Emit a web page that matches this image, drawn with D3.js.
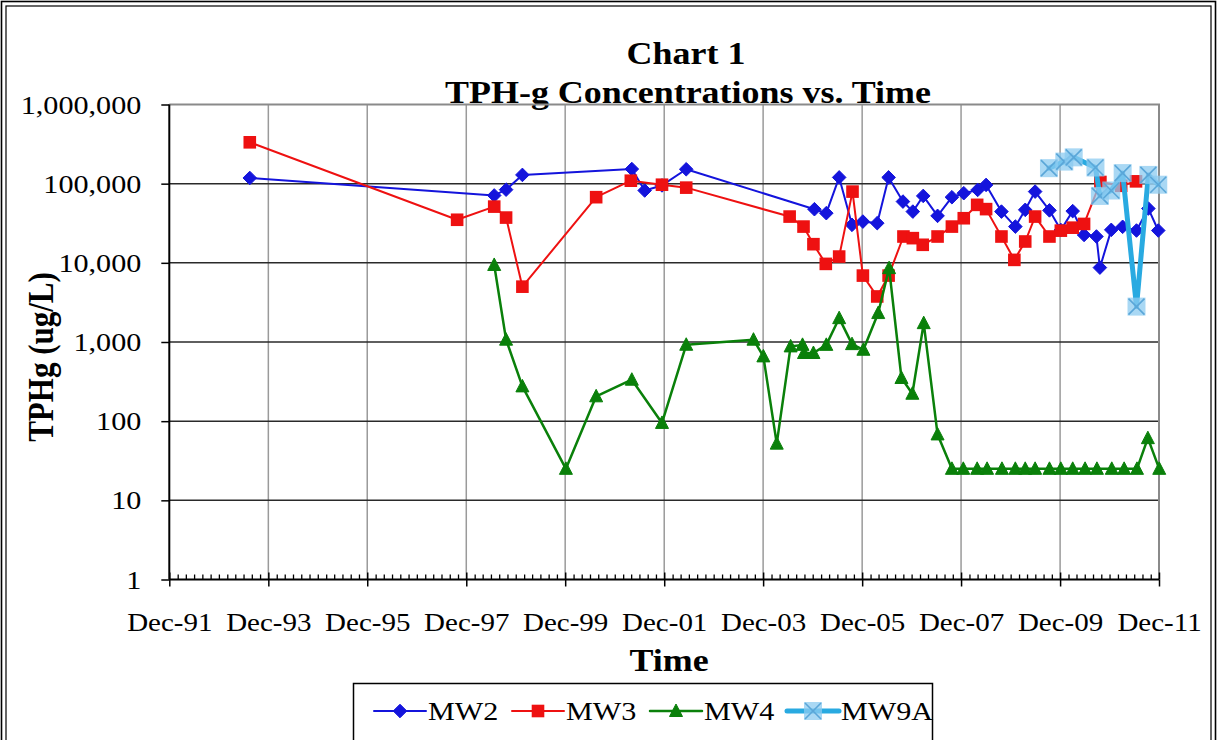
<!DOCTYPE html>
<html><head><meta charset="utf-8">
<script src="https://cdn.jsdelivr.net/npm/d3@7"></script>
<style>html,body{margin:0;padding:0;background:#fff;} svg{display:block;}</style>
</head><body>
<svg id="chart" width="1217" height="740"></svg>
<script>
// ---------------- data (dates as decimal years, values in ug/L) ----------------
const seriesNames = ["MW2", "MW3", "MW4", "MW9A"];

const mw2Dates = [1993.54, 1998.48, 1998.72, 1999.05, 2001.26, 2001.52, 2001.87, 2002.36, 2004.95, 2005.19,
  2005.45, 2005.71, 2005.93, 2006.22, 2006.45, 2006.74, 2006.94, 2007.15, 2007.44, 2007.73,
  2007.97, 2008.25, 2008.42, 2008.73, 2009.01, 2009.21, 2009.41, 2009.70, 2009.93, 2010.17,
  2010.40, 2010.65, 2010.72, 2010.95, 2011.18, 2011.46, 2011.70, 2011.90];
const mw2Values = [118000, 71000, 84000, 129000, 153000, 82000, 95000, 152000, 47600, 42400,
  120000, 30200, 33200, 31700, 120000, 59400, 44400, 70000, 39200, 67400,
  75800, 83400, 96400, 44400, 28700, 46700, 79400, 46000, 26000, 45000,
  22500, 21500, 8700, 26100, 28500, 25600, 48500, 25600];

const mw3Dates = [1993.54, 1997.73, 1998.48, 1998.72, 1999.05, 2000.54, 2001.24, 2001.87, 2002.36, 2004.45,
  2004.73, 2004.93, 2005.18, 2005.45, 2005.72, 2005.93, 2006.22, 2006.45, 2006.75, 2006.94,
  2007.14, 2007.44, 2007.73, 2007.97, 2008.24, 2008.42, 2008.73, 2008.99, 2009.21, 2009.41,
  2009.70, 2009.93, 2010.17, 2010.40, 2010.73, 2011.15, 2011.45];
const mw3Values = [333000, 35000, 51300, 37300, 5000, 67500, 109000, 97000, 89100, 38400,
  28700, 17200, 9700, 12000, 79400, 6900, 3760, 6900, 21500, 20500,
  16900, 21500, 28700, 36600, 54000, 47700, 21500, 10900, 18600, 38400,
  21500, 25500, 27800, 31000, 105000, 94000, 107000];

const mw4Dates = [1998.48, 1998.72, 1999.05, 1999.93, 2000.54, 2001.26, 2001.87, 2002.36, 2003.72, 2003.92,
  2004.19, 2004.47, 2004.71, 2004.74, 2004.93, 2005.19, 2005.45, 2005.71, 2005.94, 2006.24,
  2006.46, 2006.71, 2006.93, 2007.16, 2007.44, 2007.73, 2007.96, 2008.24, 2008.44, 2008.74,
  2009.01, 2009.21, 2009.41, 2009.70, 2009.93, 2010.17, 2010.42, 2010.66, 2010.96, 2011.21,
  2011.47, 2011.69, 2011.92];
const mw4Values = [9400, 1070, 275, 25, 206, 334, 95, 923, 1070, 658,
  52, 880, 920, 726, 726, 920, 2000, 940, 798, 2320,
  8570, 351, 222, 1730, 68, 25, 25, 25, 25, 25,
  25, 25, 25, 25, 25, 25, 25, 25, 25, 25,
  25, 61, 25];

const mw9aDates = [2009.69, 2010.00, 2010.19, 2010.63, 2010.72, 2010.95, 2011.18, 2011.46, 2011.70, 2011.90];
const mw9aValues = [157000, 190000, 215000, 160000, 70000, 82000, 136000, 2800, 129000, 97000];

const yTickValues = [1, 10, 100, 1000, 10000, 100000, 1000000];
const yTickLabels = ["1", "10", "100", "1,000", "10,000", "100,000", "1,000,000"];
const xTickLabels = ["Dec-91", "Dec-93", "Dec-95", "Dec-97", "Dec-99", "Dec-01", "Dec-03", "Dec-05", "Dec-07", "Dec-09", "Dec-11"];
const titleLines = ["Chart 1", "TPH-g Concentrations vs. Time"];
const xAxisTitle = "Time";
const yAxisTitle = "TPHg (ug/L)";

// ---------------- setup ----------------
const FONT = "'Liberation Serif','Times New Roman',serif";
const SX = 1.16; // horizontal stretch of the original picture
const W = 1217, H = 740;
const plot = {left: 169.3, right: 1159, top: 104.5, bottom: 579.5};

function toDate(dec) {
  const yr = Math.floor(dec);
  const a = new Date(yr, 0, 1), b = new Date(yr + 1, 0, 1);
  return new Date(a.getTime() + (dec - yr) * (b - a));
}

const svg = d3.select("#chart");
svg.append("rect").attr("width", W).attr("height", H).attr("fill", "#fff");

// double outer frame
svg.append("rect").attr("x", 1.5).attr("y", 1.5).attr("width", W - 3).attr("height", H + 10)
  .attr("fill", "none").attr("stroke", "#000").attr("stroke-width", 1.6);
svg.append("rect").attr("x", 6).attr("y", 6).attr("width", W - 12).attr("height", H + 10)
  .attr("fill", "none").attr("stroke", "#000").attr("stroke-width", 1.2);

const x = d3.scaleTime()
  .domain([new Date(1991, 11, 1), new Date(2011, 11, 1)])
  .range([plot.left, plot.right]);
const y = d3.scaleLog().domain([1, 1e6]).range([plot.bottom, plot.top]);

function stext(g, s, tx, ty, size, anchor, weight) {
  return g.append("text")
    .attr("transform", `translate(${tx},${ty}) scale(${SX},1)`)
    .attr("text-anchor", anchor || "start")
    .attr("font-family", FONT)
    .attr("font-size", size)
    .attr("font-weight", weight || "normal")
    .attr("fill", "#000")
    .text(s);
}

// titles (drawn first; plot border overlaps as in original)
stext(svg, titleLines[0], 686, 64, 31, "middle", "bold");
stext(svg, titleLines[1], 688, 103, 31, "middle", "bold");

// gridlines
const majorDates = d3.timeMonth.range(new Date(1991, 11, 1), new Date(2011, 11, 2), 24);
const minorDates = d3.timeMonth.range(new Date(1991, 11, 1), new Date(2011, 11, 2), 2)
  .filter(d => !(d.getMonth() === 11 && d.getFullYear() % 2 === 1));

const grid = svg.append("g");
grid.selectAll("line.v").data(majorDates.slice(1, -1)).join("line")
  .attr("x1", d => x(d)).attr("x2", d => x(d))
  .attr("y1", plot.top).attr("y2", plot.bottom)
  .attr("stroke", "#9a9a9a").attr("stroke-width", 1.5);
grid.selectAll("line.h").data(yTickValues.slice(1, -1)).join("line")
  .attr("x1", plot.left).attr("x2", plot.right)
  .attr("y1", d => y(d)).attr("y2", d => y(d))
  .attr("stroke", "#2a2a2a").attr("stroke-width", 1.5);
// plot border (top & right)
grid.append("path")
  .attr("d", `M${plot.left},${y(1e6)}H${x(new Date(2011, 11, 1))}V${plot.bottom}`)
  .attr("fill", "none").attr("stroke", "#8a8a8a").attr("stroke-width", 2);

// y axis
const yAxisG = svg.append("g").attr("transform", `translate(${plot.left},0)`)
  .call(d3.axisLeft(y).tickValues(yTickValues).tickSize(8).tickFormat((d, i) => yTickLabels[i]));
yAxisG.select(".domain").remove();
yAxisG.selectAll(".tick line").attr("stroke", "#000").attr("stroke-width", 1.5);
yAxisG.selectAll(".tick text")
  .attr("x", null).attr("dy", null)
  .attr("transform", `translate(-28,8.5) scale(${SX},1)`)
  .attr("text-anchor", "end")
  .attr("font-family", FONT).attr("font-size", 26).attr("fill", "#000");

// x axis: minor ticks (up), major ticks (cross), labels
const xMinorG = svg.append("g").attr("transform", `translate(0,${plot.bottom})`)
  .call(d3.axisBottom(x).tickValues(minorDates).tickSize(-5).tickFormat(""));
xMinorG.select(".domain").remove();
xMinorG.selectAll(".tick line").attr("stroke", "#000").attr("stroke-width", 1.3);

const xMajUpG = svg.append("g").attr("transform", `translate(0,${plot.bottom})`)
  .call(d3.axisBottom(x).tickValues(majorDates).tickSize(-7).tickFormat(""));
xMajUpG.select(".domain").remove();
xMajUpG.selectAll(".tick line").attr("stroke", "#000").attr("stroke-width", 1.5);

const xAxisG = svg.append("g").attr("transform", `translate(0,${plot.bottom})`)
  .call(d3.axisBottom(x).tickValues(majorDates).tickSize(7).tickFormat((d, i) => xTickLabels[i]));
xAxisG.select(".domain").remove();
xAxisG.selectAll(".tick line").attr("stroke", "#000").attr("stroke-width", 1.5);
xAxisG.selectAll(".tick text")
  .attr("y", null).attr("dy", null)
  .attr("transform", `translate(0,51.5) scale(${SX},1)`)
  .attr("text-anchor", "middle")
  .attr("font-family", FONT).attr("font-size", 25).attr("fill", "#000");

// axis lines
svg.append("line").attr("x1", plot.left).attr("x2", plot.left).attr("y1", plot.top).attr("y2", plot.bottom)
  .attr("stroke", "#000").attr("stroke-width", 2);
svg.append("line").attr("x1", plot.left).attr("x2", x(new Date(2011, 11, 1))).attr("y1", plot.bottom).attr("y2", plot.bottom)
  .attr("stroke", "#000").attr("stroke-width", 2);

// axis titles
stext(svg, xAxisTitle, 669, 671, 31, "middle", "bold");
svg.append("text")
  .attr("transform", `translate(53,357) scale(${SX},1) rotate(-90)`)
  .attr("text-anchor", "middle").attr("font-family", FONT).attr("font-size", 31)
  .attr("font-weight", "bold").attr("fill", "#000").text(yAxisTitle);

// ---------------- series ----------------
const C2 = "#1414DC", C3 = "#EE1111", C4 = "#0A800A", C9 = "#29AAE1";
const styles = {
  MW2: {color: C2, width: 2, marker: "diamond"},
  MW3: {color: C3, width: 2, marker: "square"},
  MW4: {color: C4, width: 2.5, marker: "triangle"},
  MW9A: {color: C9, width: 5, marker: "xsquare"}
};
const allSeries = [
  {name: "MW2", dates: mw2Dates, values: mw2Values},
  {name: "MW3", dates: mw3Dates, values: mw3Values},
  {name: "MW4", dates: mw4Dates, values: mw4Values},
  {name: "MW9A", dates: mw9aDates, values: mw9aValues}
].map(s => ({name: s.name, points: s.dates.map((d, i) => ({date: toDate(d), value: s.values[i]}))}));

function drawMarker(g, kind, color) {
  if (kind === "diamond") {
    g.append("path").attr("d", "M0,-6.8L6.8,0L0,6.8L-6.8,0Z").attr("fill", color).attr("stroke", color).attr("stroke-width", 1);
  } else if (kind === "square") {
    g.append("rect").attr("x", -6.3).attr("y", -6.3).attr("width", 12.6).attr("height", 12.6).attr("fill", color);
  } else if (kind === "triangle") {
    g.append("path").attr("d", "M0,-7L6.5,5.5L-6.5,5.5Z").attr("fill", color).attr("stroke", color).attr("stroke-width", 1);
  } else {
    g.append("rect").attr("x", -9).attr("y", -9).attr("width", 18).attr("height", 18)
      .attr("fill", "#8ccbf0").attr("fill-opacity", 0.75);
    g.append("path").attr("d", "M-8,-8L8,8M8,-8L-8,8").attr("stroke", "#5aa6d8").attr("stroke-width", 1.6);
  }
}

const line = d3.line().x(d => x(d.date)).y(d => y(d.value));
const seriesG = svg.append("g");
allSeries.forEach(s => {
  const st = styles[s.name];
  const g = seriesG.append("g");
  g.append("path").datum(s.points).attr("d", line)
    .attr("fill", "none").attr("stroke", st.color).attr("stroke-width", st.width)
    .attr("stroke-linejoin", "round").attr("stroke-linecap", "round");
  g.selectAll("g.m").data(s.points).join("g")
    .attr("transform", d => `translate(${x(d.date)},${y(d.value)})`)
    .each(function () { drawMarker(d3.select(this), st.marker, st.color); });
});

// ---------------- legend ----------------
const legend = svg.append("g");
legend.append("rect").attr("x", 353.5).attr("y", 683.5).attr("width", 579).attr("height", 80)
  .attr("fill", "#fff").attr("stroke", "#000").attr("stroke-width", 1.5);
const legendPos = [374, 512, 650, 787];
seriesNames.forEach((name, i) => {
  const st = styles[name];
  const lx = legendPos[i];
  const g = legend.append("g");
  g.append("line").attr("x1", lx).attr("x2", lx + 52).attr("y1", 711).attr("y2", 711)
    .attr("stroke", st.color).attr("stroke-width", st.width).attr("stroke-linecap", "round");
  const mg = g.append("g").attr("transform", `translate(${lx + 26},711)`);
  drawMarker(mg, st.marker, st.color);
  stext(g, name, lx + 54, 720, 26, "start", "normal");
});
</script>
</body></html>
